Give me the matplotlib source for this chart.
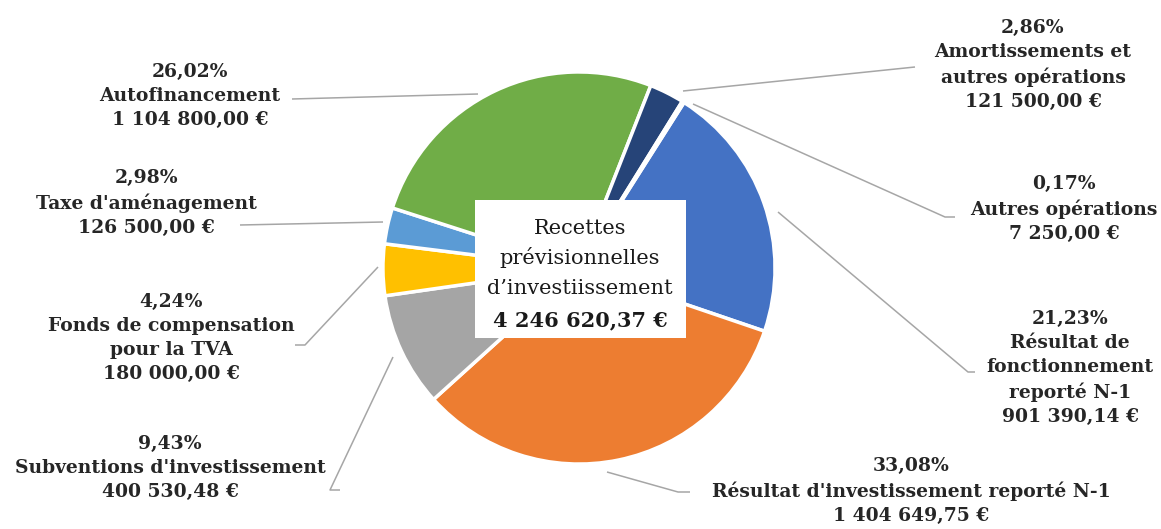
import matplotlib
matplotlib.use("Agg")
import matplotlib.pyplot as plt
from matplotlib.patches import Rectangle

# ---- data ----
categories = [
    "Résultat de\nfonctionnement\nreporté N-1",
    "Résultat d'investissement reporté N-1",
    "Subventions d'investissement",
    "Fonds de compensation\npour la TVA",
    "Taxe d'aménagement",
    "Autofinancement",
    "Amortissements et\nautres opérations",
    "Autres opérations",
]
values = [901390.14, 1404649.75, 400530.48, 180000.00, 126500.00, 1104800.00, 121500.00, 7250.00]
percent_labels = ["21,23%", "33,08%", "9,43%", "4,24%", "2,98%", "26,02%", "2,86%", "0,17%"]
amount_labels = ["901 390,14 €", "1 404 649,75 €", "400 530,48 €", "180 000,00 €",
                 "126 500,00 €", "1 104 800,00 €", "121 500,00 €", "7 250,00 €"]
colors = ["#4472C4", "#ED7D31", "#A5A5A5", "#FFC000", "#5B9BD5", "#70AD47", "#264478", "#9E8070"]
center_title = ["Recettes", "prévisionnelles", "d’investiissement"]
center_total = "4 246 620,37 €"

W, H = 1161, 529
fig = plt.figure(figsize=(W / 100, H / 100), dpi=100)
ax = fig.add_axes([0, 0, 1, 1])

def Y(y):
    return H - y

cx, cy, R = 579, 268, 196
wedges, _ = ax.pie(values, colors=colors, startangle=57.6, counterclock=False,
                   center=(cx, Y(cy)), radius=R, explode=[0.035] * len(values),
                   wedgeprops=dict(edgecolor="white", linewidth=2.5), frame=True)
ax.set_xlim(0, W)
ax.set_ylim(0, H)
ax.set_aspect("equal")
ax.axis("off")

# label positions (text block centre, image coords)
label_pos = [(1070, 368), (911, 491), (170, 468), (171, 338),
             (146, 203), (190, 96), (1033, 65), (1064, 209)]
# leader lines (image coords): points from label to pie
leaders = [
    [(975, 372), (968, 372), (778, 212)],
    [(690, 492), (678, 492), (607, 472)],
    [(340, 490), (330, 490), (393, 357)],
    [(295, 345), (305, 345), (378, 267)],
    [(240, 225), (383, 222)],
    [(292, 99), (478, 94)],
    [(915, 67), (683, 91)],
    [(955, 217), (945, 217), (693, 104)],
]

for i in range(len(values)):
    txt = percent_labels[i] + "\n" + categories[i] + "\n" + amount_labels[i]
    x, y = label_pos[i]
    ax.text(x, Y(y), txt, ha="center", va="center", family="DejaVu Serif",
            fontweight="bold", fontsize=13.5, color="#262626", linespacing=1.42)
    pts = leaders[i]
    ax.plot([p[0] for p in pts], [Y(p[1]) for p in pts], color="#A6A6A6", lw=1.1,
            solid_capstyle="butt", zorder=1)

# centre box
ax.add_patch(Rectangle((475, Y(338)), 211, 138, facecolor="white", edgecolor="none", zorder=5))
for j, (line, yy) in enumerate(zip(center_title, [228, 258, 289])):
    ax.text(580, Y(yy), line, ha="center", va="center", family="DejaVu Serif",
            fontsize=15, color="#1a1a1a", zorder=6)
ax.text(580, Y(320), center_total, ha="center", va="center", family="DejaVu Serif",
        fontsize=15, fontweight="bold", color="#1a1a1a", zorder=6)

fig.savefig("out.png", dpi=100, facecolor="white")
